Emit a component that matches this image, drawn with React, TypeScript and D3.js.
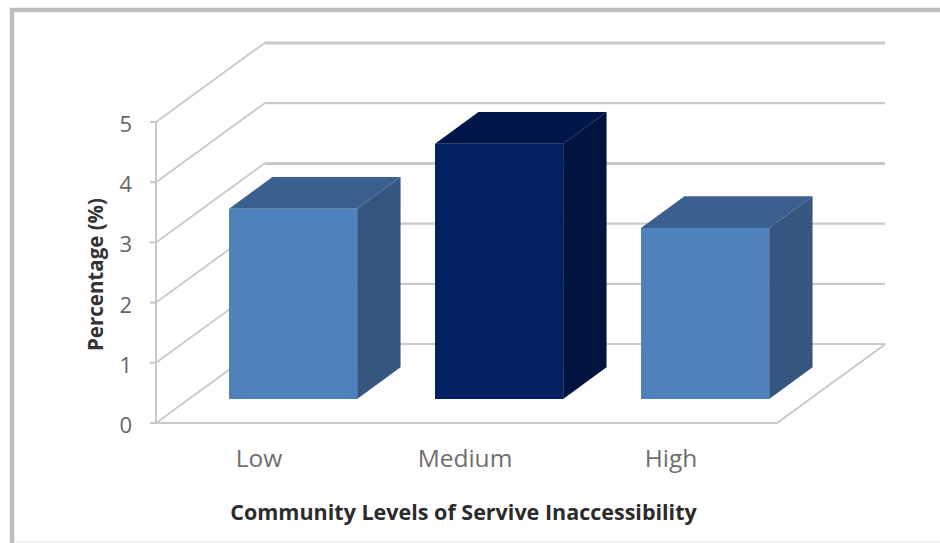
import React from "react";
import * as d3 from "d3";

const categories = ["Low", "Medium", "High"];
const values = [3.16, 4.24, 2.84];
const yTicks = [0, 1, 2, 3, 4, 5];
const faceColors = [
  { front: "#4f81bd", top: "#3a6090", side: "#34567f" },
  { front: "#002060", top: "#001548", side: "#00143f" },
  { front: "#4f81bd", top: "#3a6090", side: "#34567f" },
];
const yTitle = "Percentage (%)";
const xTitle = "Community Levels of Servive Inaccessibility";

// Front plane of the plot box and the oblique depth vector of the 3D projection.
const FRONT_LEFT = 156;
const FRONT_RIGHT = 777;
const FRONT_BOTTOM = 423;
const FRONT_TOP = 122;
const DEPTH_X = 108.5;
const DEPTH_Y = -79;
const BAR_NEAR = 0.305; // bar front face, as a fraction of the box depth
const BAR_FAR = 0.705; // bar back face
const FONT = "'Open Sans', Lato, sans-serif";
const GRID = "#c9c9c9";

const x = d3.scaleBand<string>().domain(categories).range([157, 775]).paddingInner(0).paddingOuter(0);
const y = d3.scaleLinear().domain([0, 5]).range([FRONT_BOTTOM, FRONT_TOP]);

const project = (px: number, py: number, depth: number): [number, number] => [
  px + DEPTH_X * depth,
  py + DEPTH_Y * depth,
];
const polygon = d3.line<[number, number]>();
const closed = (pts: [number, number][]) => (polygon(pts) ?? "") + "Z";

export default function App() {
  const barWidth = x.bandwidth() * 0.622;
  return (
    <svg
      width={940}
      height={543}
      viewBox="0 0 940 543"
      style={{ position: "fixed", left: 0, top: 0, background: "#ffffff" }}
    >
      {/* outer chart frame, open on the right */}
      <path d="M12,543V10H940" fill="none" stroke="#bdbdbd" strokeWidth={4.5} />
      <line x1={14} x2={940} y1={541.5} y2={541.5} stroke="#ececec" strokeWidth={1.5} />

      {/* back wall gridlines and side wall diagonals */}
      {yTicks.map((t) => {
        const [bx, by] = project(FRONT_LEFT, y(t), 1);
        return (
          <g key={t} stroke={GRID} fill="none">
            <line x1={FRONT_LEFT} y1={y(t)} x2={bx} y2={by} strokeWidth={1.8} />
            <line x1={bx} y1={by} x2={885} y2={by} strokeWidth={t === 5 || t === 3 ? 3 : 2.2} />
            <line x1={FRONT_LEFT - 6} x2={FRONT_LEFT} y1={y(t)} y2={y(t)} strokeWidth={2} />
          </g>
        );
      })}

      {/* floor edges and value axis */}
      <g stroke={GRID} fill="none" strokeWidth={2}>
        <line x1={FRONT_LEFT} x2={FRONT_LEFT} y1={y(5)} y2={y(0)} />
        <path
          d={
            polygon([
              [FRONT_LEFT, y(0)],
              [FRONT_RIGHT, y(0)],
              project(FRONT_RIGHT, y(0), 1),
            ]) ?? ""
          }
        />
      </g>

      {/* bars: front, top and side faces */}
      {categories.map((c, i) => {
        const cx = (x(c) ?? 0) + x.bandwidth() / 2;
        const x0 = cx - barWidth / 2;
        const x1 = cx + barWidth / 2;
        const yBase = y(0);
        const yTop = y(values[i]);
        const colors = faceColors[i];
        const a = project(x0, yTop, BAR_NEAR);
        const b = project(x1, yTop, BAR_NEAR);
        const c2 = project(x1, yBase, BAR_NEAR);
        const d = project(x0, yBase, BAR_NEAR);
        const e = project(x0, yTop, BAR_FAR);
        const f = project(x1, yTop, BAR_FAR);
        const g = project(x1, yBase, BAR_FAR);
        return (
          <g key={c}>
            <path d={closed([a, e, f, b])} fill={colors.top} />
            <path d={closed([b, f, g, c2])} fill={colors.side} />
            <path d={closed([a, b, c2, d])} fill={colors.front} />
          </g>
        );
      })}

      {/* value tick labels */}
      <g fontFamily={FONT} fontSize={22} fill="#666666" textAnchor="end">
        {yTicks.map((t) => (
          <text key={t} x={132} y={y(t) + 10}>
            {t}
          </text>
        ))}
      </g>

      {/* category labels */}
      <g fontFamily={FONT} fontSize={24.5} fill="#6e6e6e" textAnchor="middle">
        {categories.map((c) => (
          <text key={c} x={(x(c) ?? 0) + x.bandwidth() / 2 - 1} y={467}>
            {c}
          </text>
        ))}
      </g>

      {/* axis titles */}
      <text
        transform="translate(103,274.5) rotate(-90)"
        fontFamily={FONT}
        fontSize={20.5}
        fontWeight={700}
        fill="#333333"
        textAnchor="middle"
      >
        {yTitle}
      </text>
      <text
        x={463.5}
        y={520}
        fontFamily={FONT}
        fontSize={21.5}
        fontWeight={700}
        fill="#2b2b2b"
        textAnchor="middle"
      >
        {xTitle}
      </text>
    </svg>
  );
}
